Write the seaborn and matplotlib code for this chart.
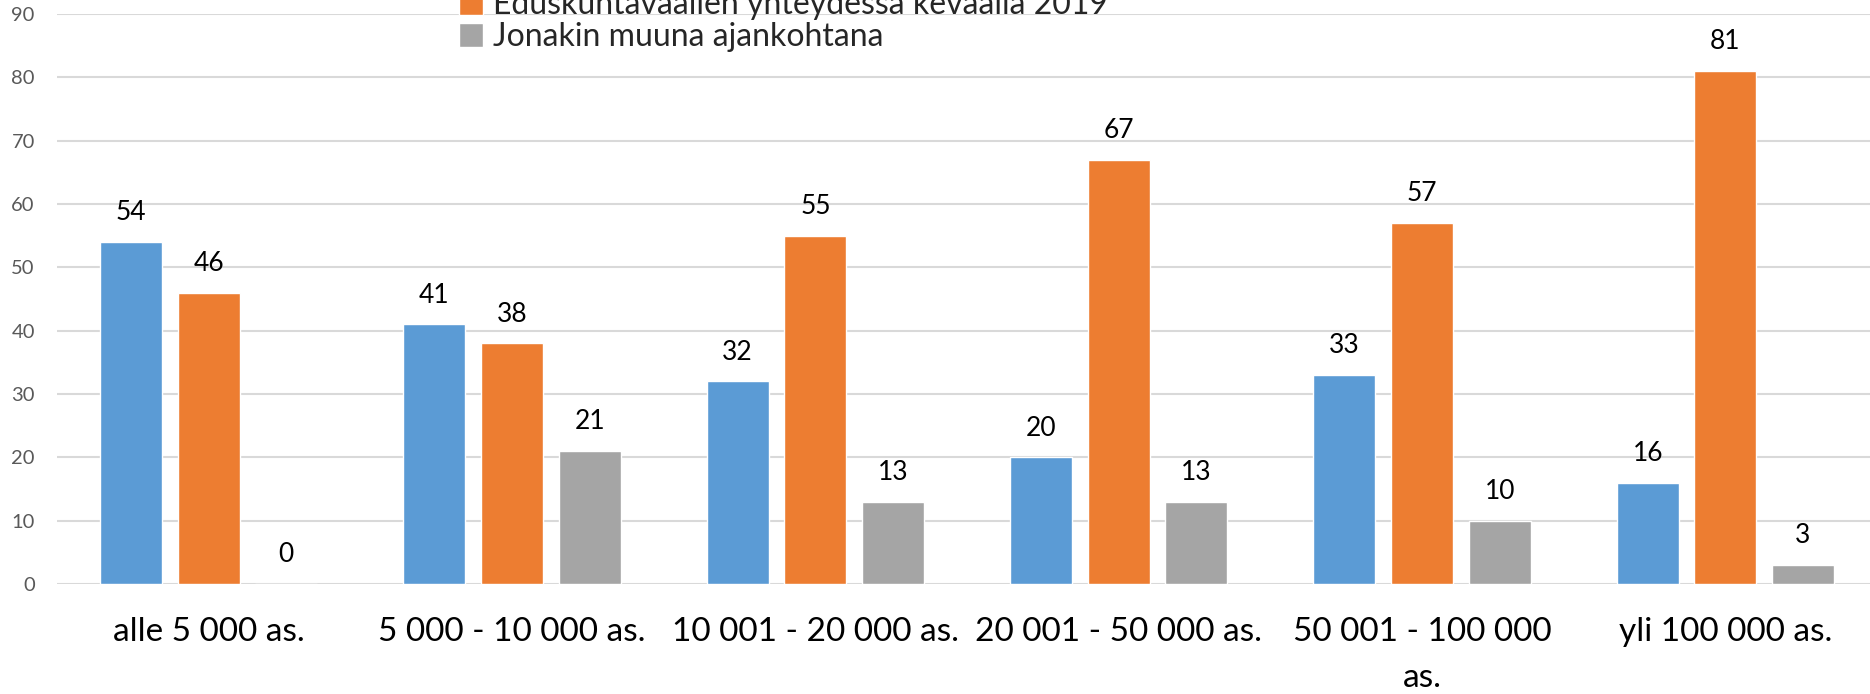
import pandas as pd
import matplotlib
matplotlib.use("Agg")
import matplotlib.pyplot as plt
import seaborn as sns

categories = ["alle 5 000 as.", "5 000 - 10 000 as.", "10 001 - 20 000 as.",
              "20 001 - 50 000 as.", "50 001 - 100 000\nas.", "yli 100 000 as."]
series = ["Kuntavaalien yhteydessä keväällä 2017",
          "Eduskuntavaalien yhteydessä keväällä 2019",
          "Jonakin muuna ajankohtana"]
blue_vals = [54, 41, 32, 20, 33, 16]
orange_vals = [46, 38, 55, 67, 57, 81]
gray_vals = [0, 21, 13, 13, 10, 3]
colors = ["#5B9BD5", "#ED7D31", "#A5A5A5"]

df = pd.DataFrame({
    "kunta": categories * 3,
    "sarja": [series[0]] * 6 + [series[1]] * 6 + [series[2]] * 6,
    "arvo": blue_vals + orange_vals + gray_vals,
})

sns.set_style("white")
plt.rcParams["font.family"] = ["Lato", "DejaVu Sans"]

fig = plt.figure(figsize=(18.7, 6.94), dpi=100)
ax = fig.add_axes([57 / 1870, 110 / 694, 1820 / 1870, 570 / 694])

sns.barplot(data=df, x="kunta", y="arvo", hue="sarja", palette=colors,
            width=0.768, gap=0.2, saturation=1, ax=ax, legend=True)

for cont in ax.containers:
    ax.bar_label(cont, fmt="%d", padding=12, fontsize=19, color="black")

ax.set_ylim(0, 90)
ax.set_xlim(-0.5, 5.5)
ax.set_yticks(range(0, 91, 10))
ax.yaxis.grid(True, color="#d9d9d9", linewidth=1.5)
ax.set_axisbelow(True)
for s in ax.spines.values():
    s.set_visible(False)
ax.tick_params(axis="y", length=0, pad=16, labelsize=14.5, labelcolor="#595959")
ax.tick_params(axis="x", length=0, pad=24, labelsize=24, labelcolor="black")
for t in ax.get_xticklabels():
    t.set_linespacing(1.65)
ax.set_xlabel("")
ax.set_ylabel("")

handles, labels = ax.get_legend_handles_labels()
ax.get_legend().remove()
fig.legend(handles, labels, loc="lower left", bbox_to_anchor=(443 / 1870, 1 - 68 / 694),
           frameon=False, fontsize=23, handlelength=0.75, handleheight=0.75,
           handletextpad=0.3, labelspacing=0.05, borderpad=0)

fig.savefig("out.png", dpi=100)
